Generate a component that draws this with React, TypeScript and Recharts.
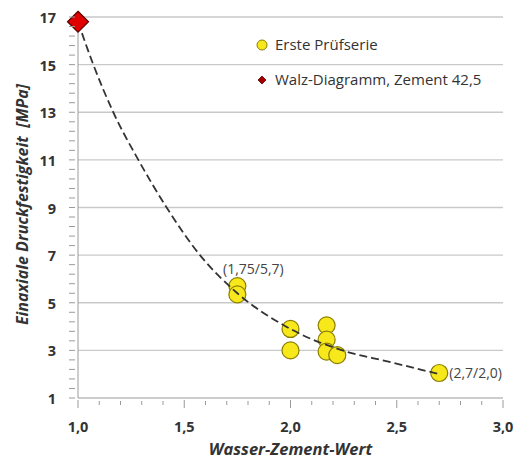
import React from 'react';
import { ComposedChart, Scatter, Line, XAxis, YAxis, ReferenceLine, Legend, Label, LabelList } from 'recharts';

// Erste Prüfserie (w/z-Wert, Druckfestigkeit MPa)
const seriesX = [1.75, 1.75, 2.0, 2.0, 2.17, 2.17, 2.17, 2.22, 2.7];
const seriesY = [5.7, 5.35, 3.9, 3.0, 4.05, 3.45, 2.95, 2.8, 2.05];
const seriesNotes = ['(1,75/5,7)', '', '', '', '', '', '', '', '(2,7/2,0)'];

// Walz-Diagramm, Zement 42,5
const walzX = [1.0];
const walzY = [16.8];

// dashed trend curve
const curveX = [1.0, 1.072, 1.166, 1.284, 1.417, 1.574, 1.75, 2.0, 2.27, 2.45, 2.7];
const curveY = [16.8, 15, 13, 11, 9, 7, 5.4, 3.9, 2.93, 2.55, 2.0];

const xTicks = [1.0, 1.1, 1.2, 1.3, 1.4, 1.5, 1.6, 1.7, 1.8, 1.9, 2.0, 2.1, 2.2, 2.3, 2.4, 2.5, 2.6, 2.7, 2.8, 2.9, 3.0];
const yMajorTicks = [1, 3, 5, 7, 9, 11, 13, 15, 17];
const yMinorOffsets = [0.4, 0.8, 1.2, 1.6];
const gridValues = [3, 5, 7, 9, 11, 13, 15, 17];

const yTicks: number[] = [];
yMajorTicks.forEach((t, i) => {
  yTicks.push(t);
  if (i < yMajorTicks.length - 1) yMinorOffsets.forEach((o) => yTicks.push(Math.round((t + o) * 10) / 10));
});

const seriesData = seriesX.map((x, i) => ({ x, y: seriesY[i], note: seriesNotes[i] }));
const walzData = walzX.map((x, i) => ({ x, y: walzY[i] }));
const curveData = curveX.map((x, i) => ({ x, y: curveY[i] }));

const FONT = '"Open Sans", "DejaVu Sans", sans-serif';
const YELLOW = '#f7e81c';
const YELLOW_STROKE = '#8c7f00';
const RED = '#e00000';
const RED_STROKE = '#5a0000';
const AXIS = '#9a9a9a';
const TEXT = '#333333';

const fmt = (v: number) => v.toFixed(1).replace('.', ',');

const XTick = (props: any) => {
  const { x, y, payload } = props;
  const v = payload.value as number;
  const major = Math.abs(v * 2 - Math.round(v * 2)) < 1e-6;
  return (
    <g>
      <line x1={x} x2={x} y1={y - (major ? 4 : 3)} y2={y + (major ? 4 : 1)} stroke={AXIS} strokeWidth={1} />
      {major && (
        <text x={x} y={y + 28} textAnchor="middle" fontFamily={FONT} fontWeight={700} fontSize={14.5} fill={TEXT}>
          {fmt(v)}
        </text>
      )}
    </g>
  );
};

const YTick = (props: any) => {
  const { x, y, payload } = props;
  const v = payload.value as number;
  const major = Math.abs(v - Math.round(v)) < 1e-6 && Math.round(v) % 2 === 1;
  return (
    <g>
      <line x1={x - 3} x2={x + 3} y1={y} y2={y} stroke={AXIS} strokeWidth={1} />
      {major && (
        <text x={x - 16} y={y + 6} textAnchor="end" fontFamily={FONT} fontWeight={700} fontSize={14.5} fill={TEXT}>
          {v}
        </text>
      )}
    </g>
  );
};

const CircleShape = (props: any) => {
  const { cx, cy } = props;
  return <circle cx={cx} cy={cy} r={8.5} fill={YELLOW} stroke={YELLOW_STROKE} strokeWidth={1.2} />;
};

const DiamondShape = (props: any) => {
  const { cx, cy } = props;
  const s = 10.5;
  return (
    <polygon
      points={`${cx},${cy - s} ${cx + s},${cy} ${cx},${cy + s} ${cx - s},${cy}`}
      fill={RED}
      stroke={RED_STROKE}
      strokeWidth={1.2}
    />
  );
};

const NoteLabel = (props: any) => {
  const { x, y, width, height, value, index } = props;
  if (!value) return null;
  const cx = x + (width || 0) / 2;
  const cy = y + (height || 0) / 2;
  if (index === seriesData.length - 1) {
    return (
      <text x={cx + 10} y={cy + 5} textAnchor="start" fontFamily={FONT} fontSize={14} fill="#444">
        {value}
      </text>
    );
  }
  return (
    <text x={cx + 16} y={cy - 12} textAnchor="middle" fontFamily={FONT} fontSize={14} fill="#444">
      {value}
    </text>
  );
};

const LegendContent = () => (
  <svg width={260} height={60} style={{ overflow: 'visible' }}>
    <circle cx={7} cy={12} r={5} fill={YELLOW} stroke={YELLOW_STROKE} strokeWidth={1} />
    <text x={20} y={17} fontFamily={FONT} fontSize={15} fill={TEXT}>
      Erste Prüfserie
    </text>
    <polygon points="7,43 11,47 7,51 3,47" fill="#a00000" stroke="#600000" strokeWidth={0.8} />
    <text x={20} y={52} fontFamily={FONT} fontSize={15} fill={TEXT}>
      Walz-Diagramm, Zement 42,5
    </text>
  </svg>
);

export default function App() {
  return (
    <div style={{ position: 'absolute', left: 0, top: 0, background: '#fff' }}>
      <ComposedChart width={519} height={459} margin={{ top: 17, right: 16, left: 18, bottom: 31 }}>
        <XAxis
          type="number"
          dataKey="x"
          domain={[1, 3]}
          ticks={xTicks}
          interval={0}
          height={30}
          tickLine={false}
          tickMargin={0}
          tick={<XTick />}
          axisLine={{ stroke: AXIS }}
          allowDecimals
        >
          <Label
            content={(p: any) => {
              const vb = p.viewBox || {};
              return (
                <text
                  x={vb.x + vb.width / 2}
                  y={vb.y + 57}
                  textAnchor="middle"
                  fontFamily={FONT}
                  fontWeight={700}
                  fontStyle="italic"
                  fontSize={16.5}
                  fill={TEXT}
                >
                  Wasser-Zement-Wert
                </text>
              );
            }}
          />
        </XAxis>
        <YAxis
          type="number"
          dataKey="y"
          domain={[1, 17]}
          ticks={yTicks}
          interval={0}
          width={60}
          tickLine={false}
          tickMargin={0}
          tick={<YTick />}
          axisLine={{ stroke: AXIS }}
        >
          <Label
            content={(p: any) => {
              const vb = p.viewBox || {};
              const cx = vb.x + 4;
              const cy = vb.y + vb.height / 2 - 3;
              return (
                <text
                  x={cx}
                  y={cy}
                  transform={`rotate(-90, ${cx}, ${cy})`}
                  textAnchor="middle"
                  fontFamily={FONT}
                  fontWeight={700}
                  fontStyle="italic"
                  fontSize={16}
                  fill={TEXT}
                  dominantBaseline="central"
                >
                  {'Einaxiale Druckfestigkeit\u00a0 [MPa]'}
                </text>
              );
            }}
          />
        </YAxis>
        {gridValues.map((v) => (
          <ReferenceLine key={v} y={v} stroke="#c9c9c9" strokeWidth={1.3} />
        ))}
        <Legend
          layout="vertical"
          align="center"
          verticalAlign="middle"
          content={<LegendContent />}
          wrapperStyle={{ left: 255, top: 33, width: 260, height: 60 }}
        />
        <Scatter name="Erste Prüfserie" data={seriesData} dataKey="y" shape={<CircleShape />} isAnimationActive={false}>
          <LabelList dataKey="note" content={<NoteLabel />} />
        </Scatter>
        <Line
          data={curveData}
          dataKey="y"
          type="monotone"
          stroke="#333"
          strokeWidth={1.8}
          strokeDasharray="8 4"
          dot={false}
          activeDot={false}
          legendType="none"
          isAnimationActive={false}
          zIndex={700}
        />
        <Scatter
          name="Walz-Diagramm, Zement 42,5"
          data={walzData}
          dataKey="y"
          shape={<DiamondShape />}
          isAnimationActive={false}
          zIndex={800}
        />
      </ComposedChart>
    </div>
  );
}
